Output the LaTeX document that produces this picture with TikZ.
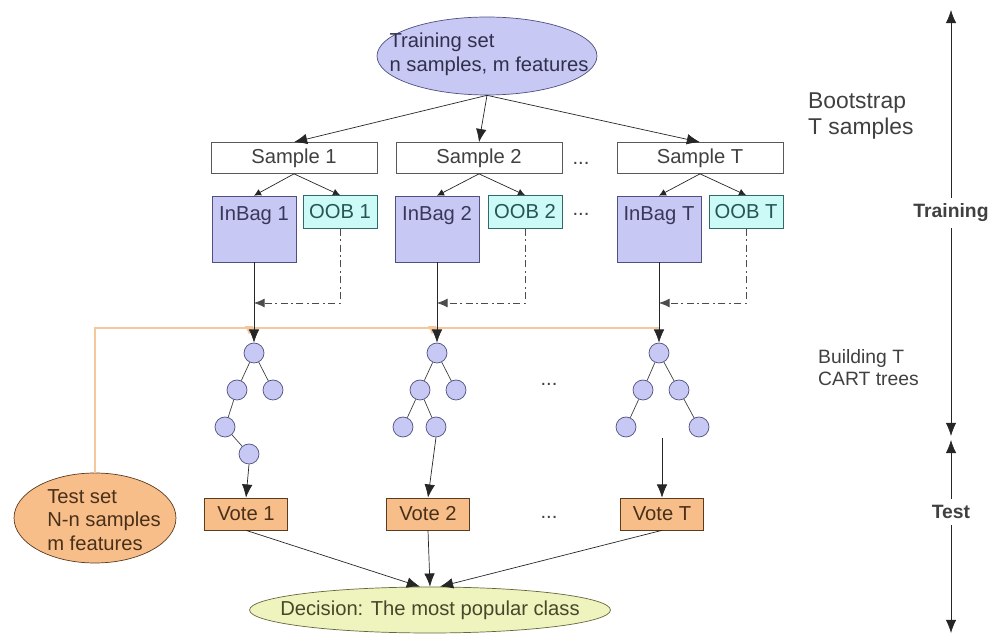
\documentclass[tikz,border=0pt]{standalone}
\usepackage{fontspec}
\setmainfont{Liberation Sans}
\usepackage{xcolor}
\usetikzlibrary{shapes.geometric,arrows.meta}

\definecolor{txtgray}{HTML}{404040}
\definecolor{lavfill}{HTML}{C8C8F4}
\definecolor{lavline}{HTML}{505080}
\definecolor{oobfill}{HTML}{CCFAF6}
\definecolor{oobline}{HTML}{2F6B6B}
\definecolor{votefill}{HTML}{F8BE8A}
\definecolor{voteline}{HTML}{5A3C20}
\definecolor{decfill}{HTML}{EFF4BF}
\definecolor{decline}{HTML}{66663A}
\definecolor{testorange}{HTML}{F5C79C}

\tikzset{
  every node/.style={font=\fontsize{11.5}{13.5}\selectfont, text=txtgray},
  arr/.style={draw=black!85, -{Latex[length=7.5pt,width=6pt]}},
  sarr/.style={draw=black!85, -{Latex[length=4pt,width=4pt]}},
  samplebox/.style={draw=black!65, fill=white, minimum width=3.32cm, minimum height=0.62cm, inner sep=0pt},
  inbagbox/.style={draw=lavline, fill=lavfill, minimum width=1.68cm, minimum height=1.32cm, inner sep=0pt, align=center, text=lavline!70!black},
  oobbox/.style={draw=oobline, fill=oobfill, minimum width=1.48cm, minimum height=0.66cm, inner sep=0pt, text=oobline!80!black},
  votebox/.style={draw=voteline, fill=votefill, minimum width=1.66cm, minimum height=0.64cm, inner sep=0pt, text=voteline!80!black},
  treenode/.style={circle, draw=lavline, fill=lavfill, minimum size=0.4cm, inner sep=0pt},
  dashdot/.style={draw=black!70, dash pattern=on 4pt off 2pt on 1pt off 2pt},
  testline/.style={draw=testorange, line width=1pt},
}

\begin{document}
\begin{tikzpicture}[x=0.02cm, y=-0.02cm]
\useasboundingbox (0,0) rectangle (998,641);

% top ellipse
\node[ellipse, draw=lavline, fill=lavfill, minimum width=4.4cm, minimum height=1.56cm, inner sep=0pt] (train) at (487,56) {};
\node[align=left, text=lavline!60!black] (traintxt) at (489,54) {Training set\\n samples, m features};
\node[anchor=west, font=\fontsize{13}{14.5}\selectfont, align=left] (bootlbl) at (802,116) {Bootstrap\\T samples};

% orange line from the test set
\node[ellipse, draw=voteline, fill=votefill, minimum width=3.24cm, minimum height=1.8cm, inner sep=0pt] (test) at (95,518) {};
\node[align=left, text=voteline!80!black] (testtxt) at (104,520) {Test set\\N-n samples\\m features};
\coordinate (orT) at (659,328);
\draw[testline] (test.north) |- (orT);
\foreach \x in {249,432}{
  \coordinate (ora\x) at (\x,328);
  \draw[testline, -{Latex[length=5pt,width=5pt]}] (ora\x) -- ++(0,7);
}

% samples, inbag and oob
\foreach \n/\s/\b/\o/\lbl in {1/294/254/340/1, 2/479/437/525/2, T/700/659/746/T}{
  \node[samplebox] (sample\n) at (\s,158) {Sample \lbl};
  \node[inbagbox] (inbag\n) at (\b,229) {InBag \lbl\\ \strut};
  \node[oobbox] (oob\n) at (\o,212) {OOB \lbl};
  \draw[arr] (train.south) -- (sample\n.north);
  \draw[sarr] (sample\n.south) -- (inbag\n.north);
  \draw[sarr] (sample\n.south) -- (oob\n.north);
  \coordinate (join\n) at (\b,303);
  \draw[dashdot, -{Latex[length=6pt,width=5pt]}] (oob\n.south) |- (join\n);
}
\node (dotsA) at (581,163) {...};
\node (dotsB) at (581,214) {...};

% tree 1
\node[treenode] (r1) at (254,353) {};
\node[treenode] (a1) at (237,390) {};
\node[treenode] (b1) at (273,390) {};
\node[treenode] (c1) at (225,427) {};
\node[treenode] (d1) at (249,454) {};
\draw[black!75] (r1) -- (a1) (r1) -- (b1) (a1) -- (c1) (c1) -- (d1);
% tree 2
\node[treenode] (r2) at (437,353) {};
\node[treenode] (a2) at (420,390) {};
\node[treenode] (b2) at (456,390) {};
\node[treenode] (c2) at (403,427) {};
\node[treenode] (d2) at (436,427) {};
\draw[black!75] (r2) -- (a2) (r2) -- (b2) (a2) -- (c2) (a2) -- (d2);
% tree T
\node[treenode] (rT) at (659,353) {};
\node[treenode] (aT) at (643,390) {};
\node[treenode] (bT) at (679,390) {};
\node[treenode] (cT) at (626,427) {};
\node[treenode] (dT) at (699,427) {};
\draw[black!75] (rT) -- (aT) (rT) -- (bT) (aT) -- (cT) (bT) -- (dT);

\draw[arr] (inbag1.south) -- (r1.north);
\draw[arr] (inbag2.south) -- (r2.north);
\draw[arr] (inbagT.south) -- (rT.north);
\node (dotsC) at (549,384) {...};
\node[anchor=west, font=\fontsize{11}{12.5}\selectfont, align=left] (buildlbl) at (812,368) {Building T\\CART trees};

% votes
\node[votebox] (vote1) at (246,514) {Vote 1};
\node[votebox] (vote2) at (428,514) {Vote 2};
\node[votebox] (voteT) at (662,514) {Vote T};
\node (dotsD) at (549,517) {...};
\coordinate (treeTout) at (662,438);
\draw[arr] (d1.south) -- (vote1.north);
\draw[arr] (d2.south) -- (vote2.north);
\draw[arr] (treeTout) -- (voteT.north);

% decision
\node[ellipse, draw=decline, fill=decfill, minimum width=7.22cm, minimum height=0.92cm, inner sep=0pt] (decision) at (430,610) {};
\node[text=decline!70!black] (dectxt) at (430,610) {Decision: The most popular class};
\draw[arr] (vote1.south) -- ([xshift=-0.2cm]decision.north);
\draw[arr] (vote2.south) -- (decision.north);
\draw[arr] (voteT.south) -- ([xshift=0.2cm]decision.north);

% phases on the right
\node[font=\bfseries\fontsize{11}{12}\selectfont] (trainlbl) at (951,213) {Training};
\node[font=\bfseries\fontsize{11}{12}\selectfont] (testlbl) at (951,512) {Test};
\coordinate (axtop) at (951,10);
\coordinate (axmidA) at (951,436);
\coordinate (axmidB) at (951,440);
\coordinate (axbot) at (951,633);
\draw[arr] (trainlbl.north) -- (axtop);
\draw[arr] (trainlbl.south) -- (axmidA);
\draw[arr] (testlbl.north) -- (axmidB);
\draw[arr] (testlbl.south) -- (axbot);
\end{tikzpicture}
\end{document}
